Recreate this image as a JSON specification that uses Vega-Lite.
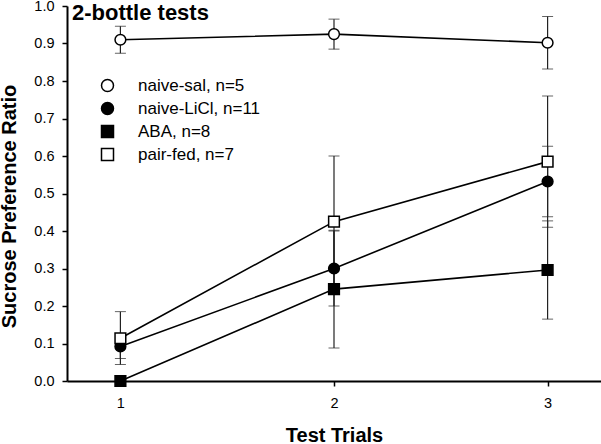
{
  "$schema": "https://vega.github.io/schema/vega-lite/v6.json",
  "width": 534,
  "height": 375,
  "autosize": {"type": "none"},
  "padding": {"left": 67, "top": 6, "right": 0, "bottom": 63},
  "background": "white",
  "title": {
    "text": "2-bottle tests",
    "anchor": "start",
    "frame": "group",
    "orient": "top",
    "baseline": "alphabetic",
    "offset": 0,
    "dy": 44,
    "dx": 5,
    "font": "Liberation Sans",
    "fontSize": 22,
    "fontWeight": "bold",
    "color": "black"
  },
  "data": {
    "values": [
      {"group": "naive-sal, n=5", "trial": 1, "mean": 0.910, "lo": 0.874, "hi": 0.946},
      {"group": "naive-sal, n=5", "trial": 2, "mean": 0.925, "lo": 0.885, "hi": 0.965},
      {"group": "naive-sal, n=5", "trial": 3, "mean": 0.902, "lo": 0.832, "hi": 0.972},
      {"group": "naive-LiCl, n=11", "trial": 1, "mean": 0.092, "lo": 0.060, "hi": 0.126},
      {"group": "naive-LiCl, n=11", "trial": 2, "mean": 0.300, "lo": 0.200, "hi": 0.400},
      {"group": "naive-LiCl, n=11", "trial": 3, "mean": 0.532, "lo": 0.438, "hi": 0.626},
      {"group": "ABA, n=8", "trial": 1, "mean": 0.000, "lo": 0.000, "hi": 0.000},
      {"group": "ABA, n=8", "trial": 2, "mean": 0.245, "lo": 0.088, "hi": 0.402},
      {"group": "ABA, n=8", "trial": 3, "mean": 0.296, "lo": 0.165, "hi": 0.427},
      {"group": "pair-fed, n=7", "trial": 1, "mean": 0.114, "lo": 0.044, "hi": 0.185},
      {"group": "pair-fed, n=7", "trial": 2, "mean": 0.425, "lo": 0.250, "hi": 0.600},
      {"group": "pair-fed, n=7", "trial": 3, "mean": 0.585, "lo": 0.410, "hi": 0.760}
    ]
  },
  "encoding": {
    "x": {
      "field": "trial",
      "type": "quantitative",
      "scale": {"domain": [0.75, 3.25], "nice": false, "zero": false},
      "axis": {
        "title": "Test Trials",
        "values": [1, 2, 3],
        "format": "d",
        "labelPadding": 10,
        "titleBaseline": "alphabetic",
        "titleY": 60,
        "titleAnchor": "middle"
      }
    }
  },
  "layer": [
    {
      "mark": {"type": "line", "color": "black", "strokeWidth": 1.6},
      "encoding": {
        "y": {
          "field": "mean",
          "type": "quantitative",
          "scale": {"domain": [0, 1], "nice": false},
          "axis": {
            "title": "Sucrose Preference Ratio",
            "values": [0, 0.1, 0.2, 0.3, 0.4, 0.5, 0.6, 0.7, 0.8, 0.9, 1.0],
            "format": ".1f",
            "labelOverlap": false,
            "labelPadding": 8,
            "titleAngle": -90,
            "titleBaseline": "alphabetic",
            "titleAlign": "center",
            "titleX": -52,
            "titleY": 200
          }
        },
        "detail": {"field": "group"}
      }
    },
    {
      "transform": [{"filter": "datum.hi > datum.lo"}],
      "mark": {"type": "errorbar", "ticks": {"size": 11, "color": "#222222", "strokeWidth": 1.2}, "rule": {"color": "#222222", "strokeWidth": 1.2}},
      "encoding": {
        "y": {
          "field": "lo",
          "type": "quantitative",
          "axis": {
            "title": "Sucrose Preference Ratio",
            "values": [0, 0.1, 0.2, 0.3, 0.4, 0.5, 0.6, 0.7, 0.8, 0.9, 1.0],
            "format": ".1f",
            "labelOverlap": false,
            "labelPadding": 8,
            "titleAngle": -90,
            "titleBaseline": "alphabetic",
            "titleAlign": "center",
            "titleX": -52,
            "titleY": 200
          }
        },
        "y2": {"field": "hi"},
        "detail": {"field": "group"}
      }
    },
    {
      "mark": {"type": "point", "filled": true, "stroke": "black", "strokeWidth": 1.5, "size": 115, "opacity": 1},
      "encoding": {
        "y": {
          "field": "mean",
          "type": "quantitative",
          "axis": {
            "title": "Sucrose Preference Ratio",
            "values": [0, 0.1, 0.2, 0.3, 0.4, 0.5, 0.6, 0.7, 0.8, 0.9, 1.0],
            "format": ".1f",
            "labelOverlap": false,
            "labelPadding": 8,
            "titleAngle": -90,
            "titleBaseline": "alphabetic",
            "titleAlign": "center",
            "titleX": -52,
            "titleY": 200
          }
        },
        "shape": {
          "field": "group",
          "type": "nominal",
          "scale": {
            "domain": ["naive-sal, n=5", "naive-LiCl, n=11", "ABA, n=8", "pair-fed, n=7"],
            "range": ["circle", "circle", "square", "square"]
          },
          "legend": {
            "title": null,
            "orient": "none",
            "legendX": 32,
            "legendY": 71,
            "padding": 0,
            "symbolSize": 144,
            "labelFont": "Liberation Sans",
            "labelFontSize": 17,
            "labelColor": "black",
            "labelOffset": 22,
            "rowPadding": 4,
            "encode": {
              "symbols": {
                "stroke": {"value": "black"},
                "strokeWidth": {"value": 1.5},
                "opacity": {"value": 1}
              }
            }
          }
        },
        "fill": {
          "field": "group",
          "type": "nominal",
          "scale": {
            "domain": ["naive-sal, n=5", "naive-LiCl, n=11", "ABA, n=8", "pair-fed, n=7"],
            "range": ["white", "black", "black", "white"]
          },
          "legend": {
            "title": null,
            "orient": "none",
            "legendX": 32,
            "legendY": 71,
            "padding": 0,
            "symbolSize": 144,
            "labelFont": "Liberation Sans",
            "labelFontSize": 17,
            "labelColor": "black",
            "labelOffset": 22,
            "rowPadding": 4,
            "encode": {
              "symbols": {
                "stroke": {"value": "black"},
                "strokeWidth": {"value": 1.5},
                "opacity": {"value": 1}
              }
            }
          }
        }
      }
    }
  ],
  "config": {
    "view": {"stroke": null},
    "font": "Liberation Sans",
    "axis": {
      "grid": false,
      "domainColor": "black",
      "domainWidth": 2,
      "tickColor": "black",
      "tickWidth": 1.5,
      "tickSize": 5,
      "labelFont": "Liberation Sans",
      "labelFontSize": 14.5,
      "labelColor": "black",
      "titleFont": "Liberation Sans",
      "titleFontSize": 20,
      "titleFontWeight": "bold",
      "titleColor": "black"
    }
  }
}
